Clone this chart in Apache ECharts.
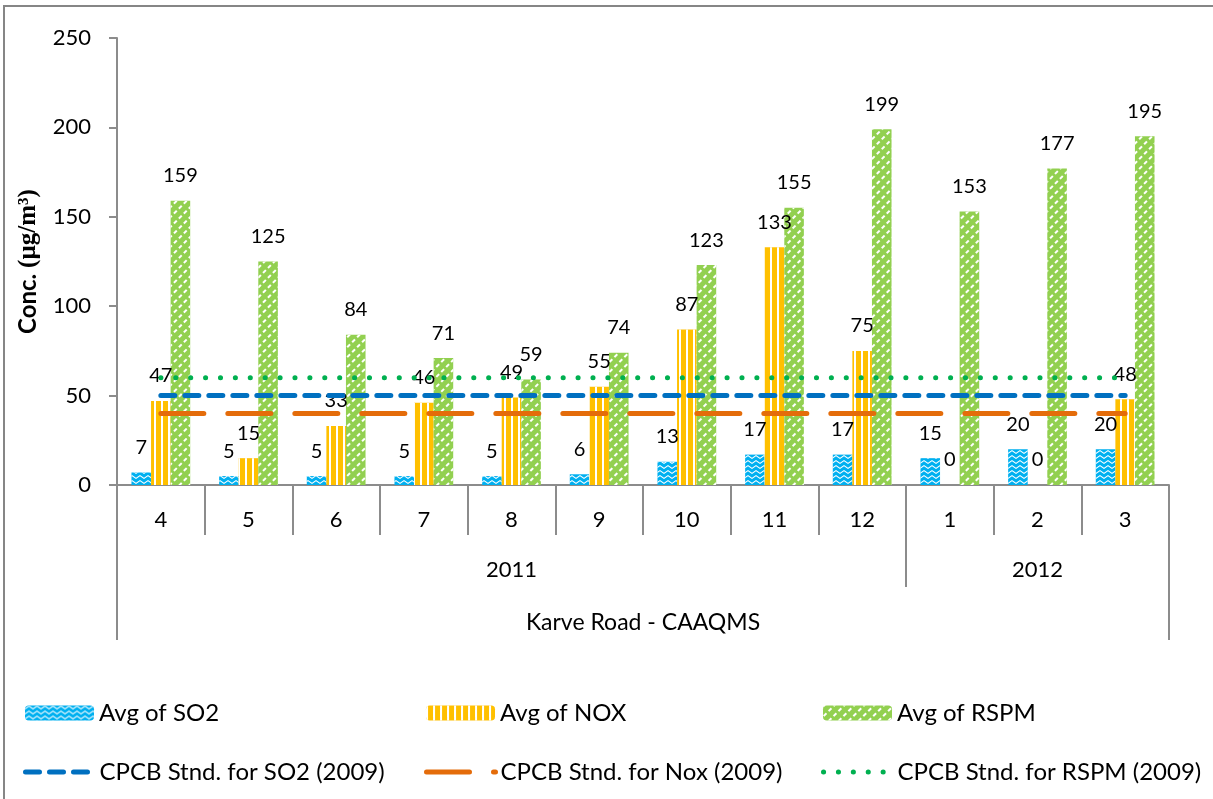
<!DOCTYPE html>
<html>
<head>
<meta charset="utf-8">
<script src="https://cdn.jsdelivr.net/npm/echarts@6/dist/echarts.min.js"></script>
<style>
  html, body { margin: 0; padding: 0; background: #fff; overflow: hidden; }
  #main { width: 1213px; height: 799px; }
</style>
</head>
<body>
<div id="main"></div>
<script>
// monthly averages, Karve Road CAAQMS
var months = ["4", "5", "6", "7", "8", "9", "10", "11", "12", "1", "2", "3"];
var years = ["", "", "", "", "2011", "", "", "", "", "", "2012", ""];
var yearStarts = [0, 9];
var station = "Karve Road - CAAQMS";

var so2 = [7, 5, 5, 5, 5, 6, 13, 17, 17, 15, 20, 20];
var nox = [47, 15, 33, 46, 49, 55, 87, 133, 75, 0, 0, 48];
var rspm = [159, 125, 84, 71, 59, 74, 123, 155, 199, 153, 177, 195];

var so2Std = [50, 50, 50, 50, 50, 50, 50, 50, 50, 50, 50, 50];
var noxStd = [40, 40, 40, 40, 40, 40, 40, 40, 40, 40, 40, 40];
var rspmStd = [60, 60, 60, 60, 60, 60, 60, 60, 60, 60, 60, 60];

var FONT = "Lato";
var GREY = "#8c8c8c";

var labelStyle = {
  show: true,
  position: "top",
  distance: 15,
  color: "#000",
  fontSize: 20,
  fontFamily: FONT
};

function legendAt(name, left, top, lineType) {
  var l = {
    data: [name],
    left: left,
    top: top,
    itemWidth: 69,
    itemHeight: 15,
    itemGap: 0,
    selectedMode: false,
    textStyle: { fontSize: 24, fontFamily: FONT, color: "#000" }
  };
  if (lineType) {
    // only the dashed stroke, no marker
    l.itemStyle = { opacity: 0 };
    l.lineStyle = { width: 5, type: lineType, cap: "round" };
  }
  return l;
}

var tickLine = { color: GREY, width: 2 };
var axisText = { fontSize: 22, fontFamily: FONT, color: "#000" };

var option = {
  backgroundColor: "#ffffff",
  animation: false,
  graphic: [{
    type: "rect",
    shape: { x: 4, y: 6, width: 1300, height: 900 },
    style: { fill: "none", stroke: "#868686", lineWidth: 2 },
    silent: true
  }],
  grid: { left: 117, right: 44, top: 38, bottom: 314 },
  legend: [
    legendAt("Avg of SO2", 20, 696),
    legendAt("Avg of NOX", 421, 696),
    legendAt("Avg of RSPM", 818, 696),
    legendAt("CPCB Stnd. for SO2 (2009)", 18, 755, [14, 10]),
    legendAt("CPCB Stnd. for Nox (2009)", 419, 755, [43, 24]),
    legendAt("CPCB Stnd. for RSPM (2009)", 816, 755, [0.1, 14.8])
  ],
  xAxis: [
    {
      type: "category",
      data: months,
      axisLine: { show: true, lineStyle: tickLine },
      axisTick: { show: true, interval: 0, length: 50, lineStyle: tickLine },
      axisLabel: Object.assign({ interval: 0, margin: 24 }, axisText)
    },
    {
      type: "category",
      data: years,
      position: "bottom",
      offset: 50,
      axisLine: { show: false },
      axisTick: {
        show: true,
        interval: function (index) { return yearStarts.indexOf(index) >= 0; },
        length: 52,
        lineStyle: tickLine
      },
      axisLabel: Object.assign({ interval: 0, margin: 24 }, axisText)
    },
    {
      type: "category",
      data: months,
      position: "bottom",
      offset: 102,
      axisLine: { show: false },
      axisTick: {
        show: true,
        interval: function (index) { return index === 0; },
        length: 53,
        lineStyle: tickLine
      },
      axisLabel: { show: false },
      name: station,
      nameLocation: "middle",
      nameGap: 24,
      nameTextStyle: { fontSize: 23, fontFamily: FONT, color: "#000", verticalAlign: "top" }
    }
  ],
  yAxis: {
    type: "value",
    min: 0,
    max: 250,
    interval: 50,
    splitLine: { show: false },
    axisLine: { show: true, lineStyle: tickLine },
    axisTick: { show: true, length: 8, lineStyle: tickLine },
    axisLabel: Object.assign({ margin: 26 }, axisText),
    name: "{a|Conc. }{b|(µg/m³)}",
    nameLocation: "middle",
    nameGap: 76,
    nameTextStyle: {
      rich: {
        a: { fontFamily: FONT, fontWeight: "bold", fontSize: 24, color: "#000" },
        b: { fontFamily: "Liberation Serif", fontWeight: "bold", fontSize: 25, color: "#000" }
      }
    }
  },
  series: [
    {
      name: "Avg of SO2",
      type: "bar",
      data: so2,
      barGap: "0%",
      barCategoryGap: "33%",
      itemStyle: {
        color: "#00b0f0",
        decal: {
          symbol: "path://M0 4 L4 0 L8 4 L8 6 L4 2 L0 6 Z",
          symbolSize: 1,
          symbolKeepAspect: false,
          color: "#ffffff",
          dashArrayX: [8, 0],
          dashArrayY: [4, 1]
        }
      },
      label: labelStyle
    },
    {
      name: "Avg of NOX",
      type: "bar",
      data: nox,
      itemStyle: {
        color: "#ffc000",
        decal: {
          symbol: "rect",
          symbolSize: 1,
          symbolKeepAspect: false,
          color: "#ffffff",
          dashArrayX: [1.5, 5],
          dashArrayY: [10, 0]
        }
      },
      label: labelStyle
    },
    {
      name: "Avg of RSPM",
      type: "bar",
      data: rspm,
      itemStyle: {
        color: "#92d050",
        decal: {
          symbol: "rect",
          symbolSize: 1,
          symbolKeepAspect: false,
          color: "#ffffff",
          rotation: -Math.PI / 4,
          dashArrayX: [4, 3],
          dashArrayY: [1.3, 4.5]
        }
      },
      label: labelStyle
    },
    {
      name: "CPCB Stnd. for SO2 (2009)",
      type: "line",
      data: so2Std,
      symbol: "none",
      itemStyle: { color: "#0070c0" },
      lineStyle: { color: "#0070c0", width: 5, type: [14, 10], cap: "round" },
      z: 3
    },
    {
      name: "CPCB Stnd. for Nox (2009)",
      type: "line",
      data: noxStd,
      symbol: "none",
      itemStyle: { color: "#e46c0a" },
      lineStyle: { color: "#e46c0a", width: 5, type: [43, 24], cap: "round" },
      z: 3
    },
    {
      name: "CPCB Stnd. for RSPM (2009)",
      type: "line",
      data: rspmStd,
      symbol: "none",
      itemStyle: { color: "#00b050" },
      lineStyle: { color: "#00b050", width: 5, type: [0.1, 14.8], cap: "round" },
      z: 3
    }
  ]
};

var myChart = echarts.init(document.getElementById("main"));
myChart.setOption(option);
</script>
</body>
</html>
